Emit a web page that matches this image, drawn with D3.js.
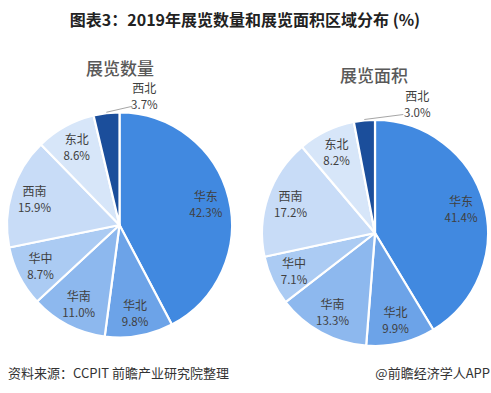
<!DOCTYPE html>
<html><head><meta charset="utf-8">
<script src="https://cdn.jsdelivr.net/npm/d3@7"></script>
<style>body{margin:0;background:#fff;}svg{display:block;}</style>
</head><body>
<script>
const regions = ["华东","华北","华南","华中","西南","东北","西北"];
const countShare = [42.3, 9.8, 11.0, 8.7, 15.9, 8.6, 3.7];
const areaShare  = [41.4, 9.9, 13.3, 7.1, 17.2, 8.2, 3.0];
const colors = ["#4189E0","#6CA3E8","#8DB8EE","#ABCBF3","#C8DCF7","#D7E6F9","#1B4E9B"];
const titleText = "图表3：2019年展览数量和展览面积区域分布 (%)";
const subTitles = ["展览数量","展览面积"];

const W=491,H=393;
const svg=d3.select("body").append("svg").attr("width",W).attr("height",H);
const cjk="'Noto Sans CJK SC','Microsoft YaHei',sans-serif";

svg.append("text").attr("x",245).attr("y",26).attr("text-anchor","middle")
  .attr("font-family",cjk).attr("font-weight","bold").attr("font-size",16).attr("fill","#222")
  .text(titleText);

const charts=[
  {vals:countShare, cx:119.5, cy:225, r:112.5, sub:subTitles[0], subX:120, subY:67, lead:[26,-6], tx:12, ty:-2},
  {vals:areaShare, cx:375, cy:233, r:113, sub:subTitles[1], subX:374, subY:74, lead:[39,-5], tx:14, ty:-3}
];

charts.forEach(c=>{
  const g=svg.append("g").attr("transform",`translate(${c.cx},${c.cy})`);
  const pie=d3.pie().sort(null).value(d=>d.v)(c.vals.map((v,i)=>({v,name:regions[i],i})));
  const arc=d3.arc().innerRadius(0).outerRadius(c.r);
  g.selectAll("path").data(pie).join("path").attr("d",arc)
    .attr("fill",d=>colors[d.data.i]).attr("stroke","#fff").attr("stroke-width",2.2).attr("stroke-linejoin","round");
  const lab=d3.arc().innerRadius(c.r*0.79).outerRadius(c.r*0.79);
  pie.forEach(d=>{
    let x,y;
    if(d.data.name==="西北"){
      const a=(d.startAngle+d.endAngle)/2;
      const sx=Math.sin(a)*(c.r+1), sy=-Math.cos(a)*(c.r+1);
      const ex=sx+c.lead[0], ey=sy+c.lead[1];
      g.append("line").attr("x1",sx).attr("y1",sy).attr("x2",ex).attr("y2",ey)
        .attr("stroke","#A6A6A6").attr("stroke-width",1);
      x=ex+c.tx; y=ey+c.ty-8;
    } else {
      [x,y]=lab.centroid(d);
    }
    const t=g.append("text").attr("text-anchor","middle").attr("font-family",cjk)
      .attr("font-size",12).attr("fill","#404040");
    t.append("tspan").attr("x",x).attr("y",y-3).text(d.data.name);
    t.append("tspan").attr("x",x).attr("y",y+13).attr("font-size",11.5).text(d3.format(".1f")(d.data.v)+"%");
  });
  svg.append("text").attr("x",c.subX).attr("y",c.subY).attr("text-anchor","middle").attr("dominant-baseline","central")
    .attr("font-family",cjk).attr("font-weight",500).attr("font-size",17).attr("fill","#595959").text(c.sub);
});

svg.append("text").attr("x",8).attr("y",378).attr("font-family",cjk).attr("font-size",13).attr("fill","#333")
  .text("资料来源：CCPIT 前瞻产业研究院整理");
svg.append("text").attr("x",490).attr("y",378).attr("text-anchor","end").attr("font-family",cjk).attr("font-size",13).attr("fill","#333")
  .text("@前瞻经济学人APP");
</script>
</body></html>
